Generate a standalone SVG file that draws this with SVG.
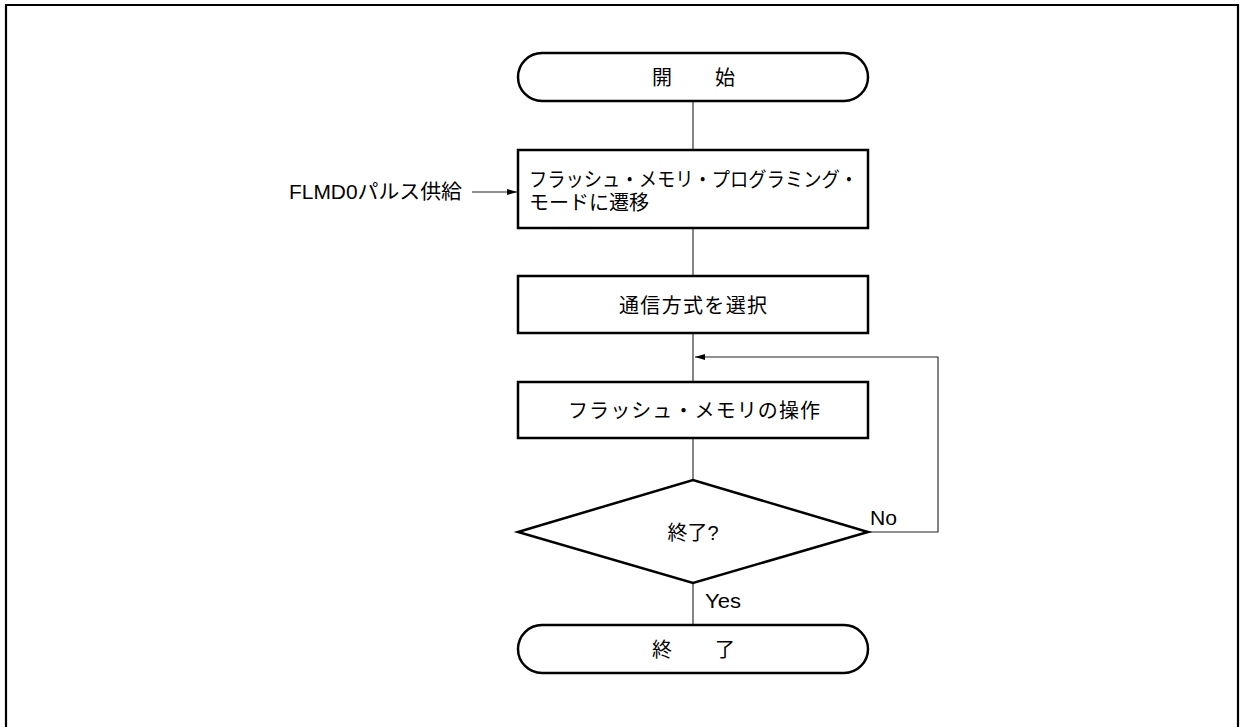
<svg xmlns="http://www.w3.org/2000/svg" width="1240" height="727" viewBox="0 0 1240 727">
<style>
.shape{fill:#fff;stroke:#000;stroke-width:2.5}
.conn{fill:none;stroke:#222;stroke-width:1.1}
.frame{fill:none;stroke:#000;stroke-width:2.2}
text{font-family:"Liberation Sans","Noto Sans CJK JP",sans-serif;fill:#000}
.t{font-size:20px}
.m{text-anchor:middle;dominant-baseline:central}
.l{font-size:20px}
</style>
<defs>
<marker id="ah" markerWidth="10" markerHeight="8" refX="10" refY="4" orient="auto" markerUnits="userSpaceOnUse">
<path d="M0,1 L10,4 L0,7 Z" fill="#000"/>
</marker>
</defs>
<path class="frame" d="M6,727 V5 H1238 V727"/>
<g id="connectors">
<line class="conn" x1="693" y1="101" x2="693" y2="150"/>
<line class="conn" x1="693" y1="228" x2="693" y2="276"/>
<line class="conn" x1="693" y1="333" x2="693" y2="382"/>
<line class="conn" x1="693" y1="438" x2="693" y2="480"/>
<line class="conn" x1="693" y1="583" x2="693" y2="625"/>
<polyline class="conn" points="868,532 938,532 938,357 695,357" marker-end="url(#ah)"/>
<line class="conn" x1="472" y1="192" x2="517" y2="192" marker-end="url(#ah)"/>
<text class="l" x="870" y="525" textLength="27" lengthAdjust="spacingAndGlyphs">No</text>
<text class="l" x="705" y="608" textLength="36" lengthAdjust="spacingAndGlyphs">Yes</text>
<text class="l" x="289" y="199" textLength="173" lengthAdjust="spacingAndGlyphs">FLMD0パルス供給</text>
</g>
<g id="start">
<rect class="shape" x="518" y="53" width="350" height="48" rx="24" ry="24"/>
<text class="t m" x="662" y="78">開</text>
<text class="t m" x="725" y="78">始</text>
</g>
<g id="mode">
<rect class="shape" x="518" y="150" width="350" height="78"/>
<text class="t" x="529" y="187" font-size="19" textLength="329" lengthAdjust="spacingAndGlyphs">フラッシュ・メモリ・プログラミング・</text>
<text class="t" x="529" y="210" font-size="19">モードに遷移</text>
</g>
<g id="select">
<rect class="shape" x="518" y="276" width="350" height="57"/>
<text class="t m" x="693" y="306" textLength="148" lengthAdjust="spacing">通信方式を選択</text>
</g>
<g id="operate">
<rect class="shape" x="518" y="382" width="350" height="56"/>
<text class="t m" x="694" y="411" textLength="252" lengthAdjust="spacing">フラッシュ・メモリの操作</text>
</g>
<g id="decision">
<polygon class="shape" points="518,532 693,480 868,532 693,583"/>
<text class="t m" x="693" y="533">終了?</text>
</g>
<g id="end">
<rect class="shape" x="518" y="625" width="350" height="48" rx="24" ry="24"/>
<text class="t m" x="662" y="650">終</text>
<text class="t m" x="725" y="650">了</text>
</g>
</svg>
